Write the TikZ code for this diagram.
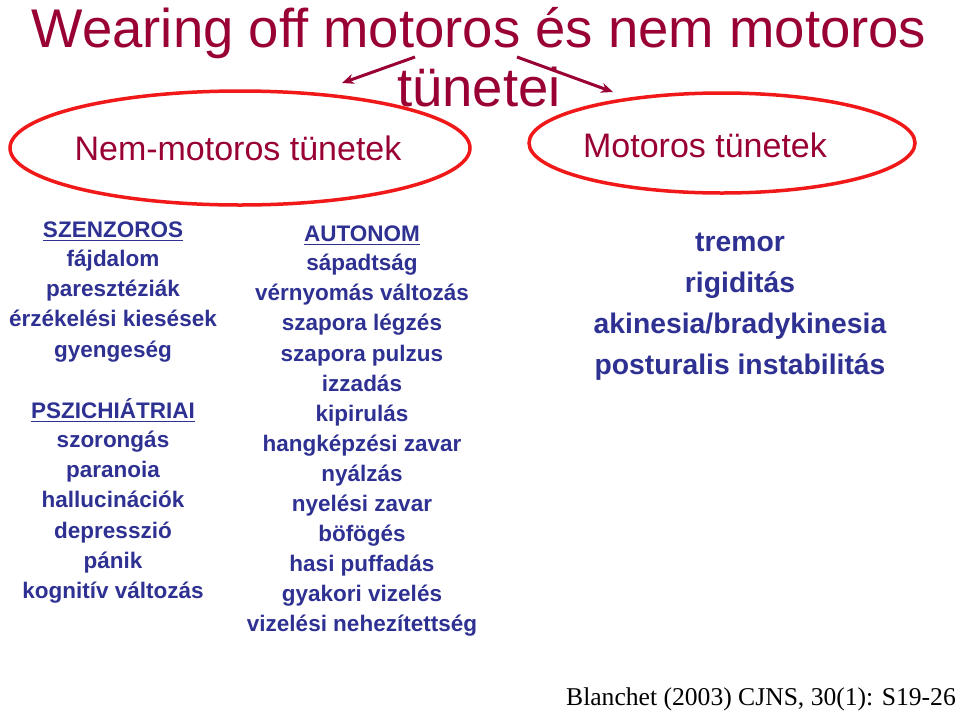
\documentclass[tikz,border=0pt]{standalone}
\usepackage{fontspec}
\setmainfont{Liberation Sans}
\newfontfamily\serifcite{Liberation Serif}
\usetikzlibrary{arrows.meta}
\definecolor{titlered}{HTML}{990033}
\definecolor{ellred}{HTML}{F01818}
\definecolor{navy}{HTML}{2E3192}
\begin{document}
\begin{tikzpicture}[x=1pt,y=-1pt,
  txt/.style={inner sep=0pt,anchor=base},
  coltxt/.style={inner sep=0pt,anchor=base,text=navy,font=\fontsize{22.5}{30.1}\selectfont\bfseries,align=center},
  ell/.style={draw=ellred,line width=3.5pt},
  arr/.style={draw=titlered,line width=3pt,-{Stealth[length=12pt,width=10pt]}},
  hul/.style={draw=navy,line width=1.6pt}]
\useasboundingbox (0,0) rectangle (960,713);
% title
\node[txt,text=titlered,font=\fontsize{54.5}{60}\selectfont] (t1) at (479,47) {Wearing off motoros és nem motoros};
\node[txt,text=titlered,font=\fontsize{54.5}{60}\selectfont] (t2) at (479,106) {tünetei};
% ellipses
\draw[ell] (240,148) ellipse[x radius=230,y radius=57];
\draw[ell] (722,143) ellipse[x radius=193,y radius=50];
\node[txt,text=titlered,font=\fontsize{34}{40}\selectfont] (nm) at (238,160) {Nem-motoros tünetek};
\node[txt,text=titlered,font=\fontsize{34}{40}\selectfont] (mt) at (705,157) {Motoros tünetek};
% arrows
\coordinate (la) at (415,57);
\coordinate (lb) at (342,83);
\coordinate (ra) at (517,57);
\coordinate (rb) at (613,92);
\draw[arr] (la) -- (lb);
\draw[arr] (ra) -- (rb);
% left column
\node[coltxt] (h1) at (113,237) {SZENZOROS};
\draw[hul] ([yshift=-3.5pt]h1.base west) -- ([yshift=-3.5pt]h1.base east);
\node[coltxt,anchor=north] (c1) at (113,250) {fájdalom\\ paresztéziák\\ érzékelési kiesések\\ gyengeség};
\node[coltxt] (h2) at (113,418) {PSZICHIÁTRIAI};
\draw[hul] ([yshift=-3.5pt]h2.base west) -- ([yshift=-3.5pt]h2.base east);
\node[coltxt,anchor=north] (c2) at (113,431) {szorongás\\ paranoia\\ hallucinációk\\ depresszió\\ pánik\\ kognitív változás};
% middle column
\node[coltxt] (h3) at (362,241) {AUTONOM};
\draw[hul] ([yshift=-3.5pt]h3.base west) -- ([yshift=-3.5pt]h3.base east);
\node[coltxt,anchor=north] (c3) at (362,254) {sápadtság\\ vérnyomás változás\\ szapora légzés\\ szapora pulzus\\ izzadás\\ kipirulás\\ hangképzési zavar\\ nyálzás\\ nyelési zavar\\ böfögés\\ hasi puffadás\\ gyakori vizelés\\ vizelési nehezítettség};
% right column
\node[coltxt,anchor=north,font=\fontsize{28.3}{41}\selectfont\bfseries] (c4) at (740,233) {tremor\\ rigiditás\\ akinesia/bradykinesia\\ posturalis instabilitás};
% citation
\node[txt,font=\serifcite\fontsize{25.6}{30}\selectfont,text=black] (cit) at (761,705) {Blanchet (2003) CJNS, 30(1): S19-26};
\end{tikzpicture}
\end{document}
